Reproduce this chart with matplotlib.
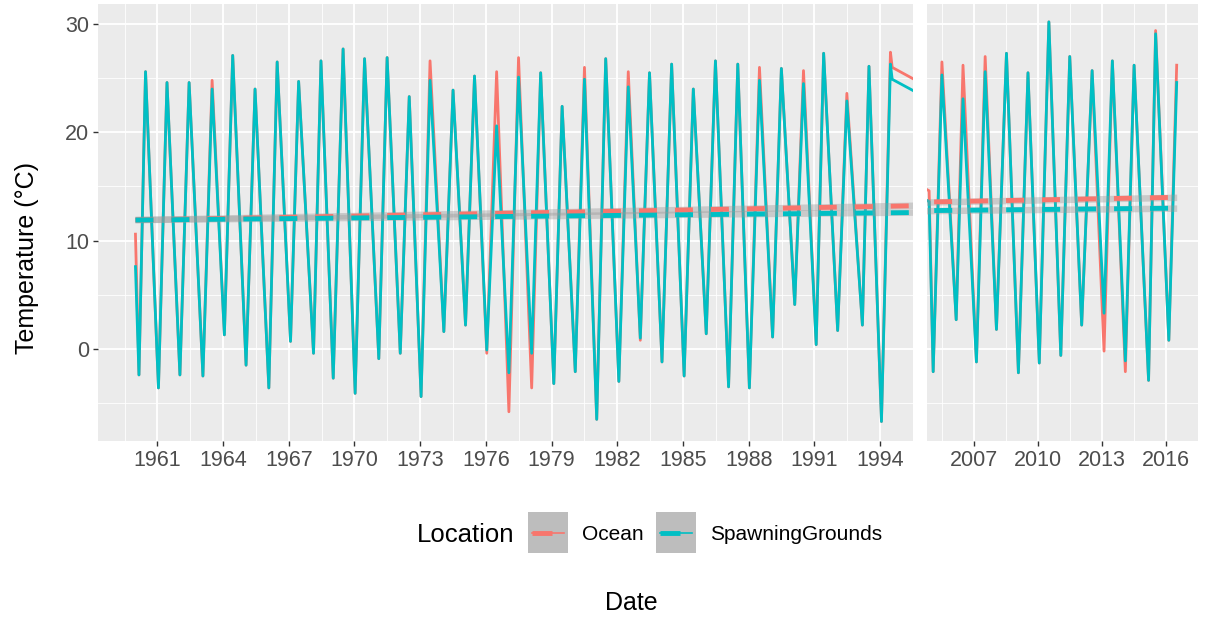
import numpy as np
import matplotlib.pyplot as plt
from matplotlib.patches import Rectangle
from matplotlib.lines import Line2D

plt.rcParams['font.family'] = ['Liberation Sans', 'DejaVu Sans']

OCEAN_COL = '#F8766D'
SPAWN_COL = '#00BFC4'

# first readings of the record
start_t = 1960.0
start_ocean = 10.6
start_spawn = 7.6

# winter lows (decimal year, deg C)
trough_t = [1960.16, 1961.05, 1962.03, 1963.08, 1964.06, 1965.05, 1966.09, 1967.08,
            1968.13, 1969.03, 1970.03, 1971.11, 1972.09, 1973.04, 1974.08, 1975.07,
            1976.04, 1977.05, 1978.09, 1979.10, 1980.08, 1981.06, 1982.07, 1983.05,
            1984.04, 1985.05, 1986.06, 1987.08, 1988.03, 1989.09, 1990.10, 1991.08,
            1992.06, 1993.19, 1994.06,
            2005.07, 2006.15, 2007.10, 2008.04, 2009.07, 2010.05, 2011.06, 2012.04,
            2013.09, 2014.09, 2015.18, 2016.13]
trough_ocean = [-2.4, -3.6, -2.4, -2.5, 1.3, -1.5, -3.6, 0.7,
                -0.4, -2.7, -4.1, -0.9, -0.4, -4.4, 1.6, 2.2,
                -0.4, -5.8, -3.6, -3.2, -2.1, -6.5, -3.0, 0.8,
                -1.2, -2.5, 1.4, -3.5, -3.6, 1.1, 4.1, 0.4,
                1.7, 2.2, -6.7,
                -2.1, 2.7, -1.2, 1.8, -2.2, -1.3, -0.6, 2.2,
                -0.2, -2.1, -2.9, 0.8]
trough_spawn = [-2.4, -3.6, -2.4, -2.5, 1.3, -1.5, -3.6, 0.7,
                -0.4, -2.7, -4.1, -0.9, -0.4, -4.4, 1.6, 2.2,
                -0.1, -2.2, -0.4, -3.2, -2.1, -6.5, -3.0, 1.0,
                -1.2, -2.5, 1.4, -3.5, -3.6, 1.1, 4.1, 0.4,
                1.7, 2.2, -6.7,
                -2.1, 2.7, -1.2, 1.8, -2.2, -1.3, -0.6, 2.2,
                3.3, -1.1, -2.9, 0.8]

# summer highs (decimal year, deg C)
peak_t = [1960.46, 1961.44, 1962.45, 1963.50, 1964.44, 1965.46, 1966.47, 1967.45,
          1968.47, 1969.48, 1970.46, 1971.49, 1972.50, 1973.45, 1974.50, 1975.48,
          1976.49, 1977.49, 1978.50, 1979.48, 1980.50, 1981.47, 1982.50, 1983.47,
          1984.48, 1985.47, 1986.48, 1987.50, 1988.49, 1989.49, 1990.50, 1991.42,
          1992.48, 1993.49, 1994.47,
          2005.48, 2006.47, 2007.51, 2008.51, 2009.52, 2010.50, 2011.48, 2012.53,
          2013.48, 2014.50, 2015.51, 2016.50]
peak_ocean = [25.6, 24.6, 24.6, 24.8, 27.1, 24.0, 26.5, 24.7,
              26.6, 27.7, 26.8, 26.9, 23.3, 26.6, 23.9, 25.2,
              25.6, 26.9, 25.5, 22.4, 26.0, 26.8, 25.6, 25.5,
              26.3, 24.0, 26.6, 26.3, 26.0, 25.9, 25.7, 27.3,
              23.6, 26.1, 27.4,
              26.5, 26.2, 27.0, 27.3, 25.5, 30.2, 27.0, 25.7,
              26.6, 26.2, 29.4, 26.2]
peak_spawn = [25.6, 24.6, 24.6, 24.0, 27.1, 24.0, 26.5, 24.7,
              26.6, 27.7, 26.8, 26.9, 23.3, 24.8, 23.9, 25.2,
              20.6, 25.1, 25.5, 22.4, 24.9, 26.8, 24.2, 25.5,
              26.3, 24.0, 26.6, 26.3, 24.8, 25.9, 24.5, 27.3,
              22.9, 26.1, 26.3,
              25.3, 23.1, 25.6, 27.3, 25.5, 30.2, 27.0, 25.7,
              26.6, 26.2, 29.1, 24.6]

# readings either side of the gap in the record
gap_t = [1994.55, 2004.88]
gap_ocean = [26.0, 14.6]
gap_spawn = [24.9, 13.6]

# linear trend end points
trend_t = [1960.0, 2016.5]
trend_ocean = [11.9, 14.0]
trend_spawn = [11.9, 13.0]
trend_se = 0.3

left_ticks = list(range(1961, 1995, 3))
right_ticks = [2007, 2010, 2013, 2016]
y_ticks = [0, 10, 20, 30]


def build(start, troughs, peaks, gap):
    t = [start_t] + trough_t + peak_t + gap_t
    v = [start] + troughs + peaks + gap
    order = np.argsort(t)
    return np.array(t)[order], np.array(v)[order]


t_oc, v_oc = build(start_ocean, trough_ocean, peak_ocean, gap_ocean)
t_sp, v_sp = build(start_spawn, trough_spawn, peak_spawn, gap_spawn)

W, H = 1207, 620
fig = plt.figure(figsize=(W / 100, H / 100), dpi=100)
fig.patch.set_facecolor('white')

bottom = (H - 441) / H
height = 437 / H
ax1 = fig.add_axes([98 / W, bottom, 815 / W, height])
ax2 = fig.add_axes([927 / W, bottom, 271 / W, height])


def draw_panel(ax, xlim, ticks):
    ax.set_facecolor('#EBEBEB')
    for s in ax.spines.values():
        s.set_visible(False)
    ax.plot(t_oc, v_oc, color=OCEAN_COL, lw=2.0, zorder=2)
    ax.plot(t_sp, v_sp, color=SPAWN_COL, lw=2.0, zorder=2)
    for ty, col in [(trend_ocean, OCEAN_COL), (trend_spawn, SPAWN_COL)]:
        ty = np.array(ty)
        ax.fill_between(trend_t, ty - trend_se, ty + trend_se, color='#999999',
                        alpha=0.4, lw=0, zorder=3)
        ax.plot(trend_t, ty, color=col, lw=3.5, ls=(0, (3.7, 3.7)),
                solid_capstyle='butt', dash_capstyle='butt', zorder=4)
    ax.set_xlim(*xlim)
    ax.set_ylim(-8.5, 31.85)
    ax.set_xticks(ticks)
    ax.set_xticklabels([str(t) for t in ticks])
    minors = [t - 1.5 for t in ticks] + [ticks[-1] + 1.5]
    ax.set_xticks(minors, minor=True)
    ax.set_yticks(y_ticks)
    ax.set_yticks([-5, 5, 15, 25], minor=True)
    ax.grid(which='major', color='white', lw=1.3, zorder=0)
    ax.grid(which='minor', color='white', lw=0.6, zorder=0)
    ax.set_axisbelow(True)
    ax.tick_params(which='major', length=3.5, width=1.0, color='#333333',
                   labelsize=15.5, labelcolor='#4D4D4D', pad=3)
    ax.tick_params(which='minor', length=0)


draw_panel(ax1, (1958.29, 1995.13), left_ticks)
draw_panel(ax2, (2004.78, 2017.04), right_ticks)
ax2.tick_params(axis='y', which='both', left=False, labelleft=False)

# overlay for titles and legend, in pixel units
ov = fig.add_axes([0, 0, 1, 1], facecolor='none')
ov.set_xlim(0, W)
ov.set_ylim(H, 0)
ov.axis('off')

ov.text(27, 258, 'Temperature (\u00b0C)', rotation=90, ha='center', va='center',
        fontsize=18, color='black')
ov.text(631, 603, 'Date', ha='center', va='center', fontsize=18, color='black')

ov.text(417, 535, 'Location', ha='left', va='center', fontsize=18.5, color='black')
for x0, col, lab in [(528, OCEAN_COL, 'Ocean'), (656, SPAWN_COL, 'SpawningGrounds')]:
    ov.add_patch(Rectangle((x0, 512), 40, 41, facecolor='#BDBDBD', edgecolor='none'))
    ov.add_line(Line2D([x0 + 4, x0 + 36], [533, 533], color=col, lw=1.2))
    ov.add_line(Line2D([x0 + 4, x0 + 24], [533, 533], color=col, lw=3.5,
                       solid_capstyle='butt'))
    ov.text(x0 + 54, 535, lab, ha='left', va='center', fontsize=15, color='black')

fig.savefig('out.png', dpi=100)
